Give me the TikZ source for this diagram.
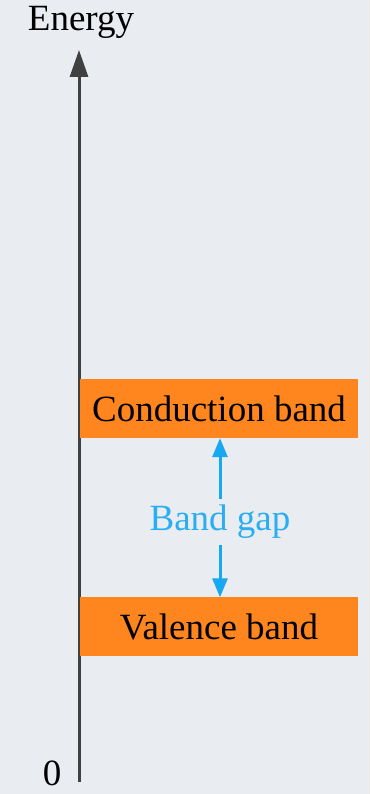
\documentclass[tikz,border=0pt]{standalone}
\usepackage{fontspec}
\setmainfont{Liberation Serif}
\usepackage{tikz}
\usetikzlibrary{arrows.meta, positioning}

\definecolor{bgcol}{RGB}{233,236,241}
\definecolor{bandorange}{RGB}{255,133,30}
\definecolor{gapblue}{RGB}{22,168,240}

\begin{document}
\begin{tikzpicture}[x=1pt, y=1pt,
  band/.style={rectangle, fill=bandorange, minimum width=278pt, minimum height=59pt, inner sep=0pt, font=\fontsize{37}{40}\selectfont},
  lbl/.style={font=\fontsize{37}{40}\selectfont, inner sep=0pt},
  axisarr/.style={-{Triangle[length=27pt, width=18pt]}, line width=3pt, draw=black!75},
  gaparr/.style={-{Triangle[length=19pt, width=15pt]}, line width=3pt, draw=gapblue}
]
  % Canvas
  \fill[bgcol] (0,0) rectangle (370,794);
  \useasboundingbox (0,0) rectangle (370,794);

  % Energy axis
  \coordinate (origin) at (79,12);
  \coordinate (top) at (79,744);
  \draw[axisarr] (origin) -- (top);
  \node[lbl] (energy) at (81,772) {Energy};
  \node[lbl] (zero) at (52,21) {0};

  % Bands
  \node[band] (cband) at (219,385.5) {Conduction band};
  \node[band] (vband) at (219,167) {Valence band};

  % Band gap
  \node[lbl, text=gapblue!92!white, inner sep=6pt] (gap) at (220,272) {Band gap};
  \draw[gaparr] (gap.north) -- (gap.north |- cband.south);
  \draw[gaparr] (gap.south) -- (gap.south |- vband.north);
\end{tikzpicture}
\end{document}
